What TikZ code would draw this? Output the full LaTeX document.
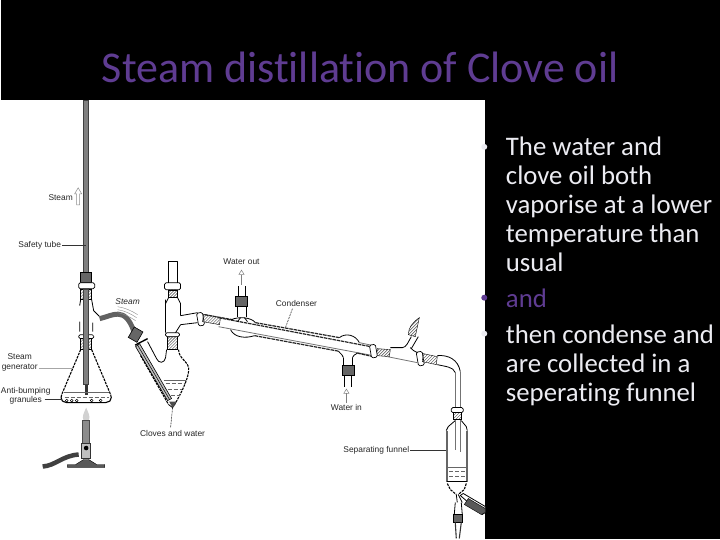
\documentclass[tikz,border=0pt]{standalone}
\usepackage{fontspec}
\setmainfont[Ligatures=NoCommon]{Carlito}
\newfontfamily\labelfont{Liberation Sans}
\usetikzlibrary{arrows.meta,patterns}
\definecolor{titlepurple}{HTML}{5F3C92}
\definecolor{bodywhite}{HTML}{ECECF2}

\begin{document}
\begin{tikzpicture}[
    x=1pt, y=-1pt,
    glass/.style={black, line width=0.8pt, line join=round},
    paleglass/.style={black!55, line width=0.8pt},
    darkglass/.style={black!85, line width=1.2pt, dash pattern=on 3.5pt off 0.8pt},
    flaskside/.style={black, line width=1.1pt, dash pattern=on 2.5pt off 1pt},
    ripple/.style={black!45, line width=0.4pt},
    hatch/.style={pattern=north east lines, pattern color=black!70},
    flange/.style={draw=black, fill=white, line width=0.7pt, rounded corners=1.5pt},
    stopper/.style={draw=black, fill=black!60, line width=0.6pt, inner sep=0pt},
    hose/.style={black!62, line width=5pt, line cap=butt},
    waterline/.style={black!60, line width=0.4pt},
    level/.style={black!60, line width=0.5pt, dash pattern=on 4pt off 2pt},
    leader/.style={black!80, line width=0.6pt},
    flow/.style={black!50, line width=0.5pt, -{Triangle[open, length=5pt, width=6pt]}},
    lab/.style={font=\labelfont\fontsize{8.4}{9.4}\selectfont, black!85, align=center, inner sep=1pt},
    title/.style={font=\fontsize{44}{48}\selectfont, text=titlepurple, anchor=west, inner sep=0pt},
    bullettext/.style={font=\fontsize{26.8}{29}\selectfont, text=bodywhite, anchor=north west, align=left, inner sep=0pt}
  ]
    \fill[black] (0,0) rectangle (720,540);
    \fill[white] (0,100) rectangle (485,540);

    % safety tube and steam generator
    \draw[black!75, fill=black!50, line width=0.5pt] (83,100) rectangle (88,385);
    \fill[black!80] (84,385) rectangle (87,395);
    \node[stopper, minimum width=11pt, minimum height=10pt] (tubestopper) at (85.5,278) {};
    \draw[flange] (78,283) rectangle (94,289);
    \draw[hatch] (80,289) rectangle (91,300);
    \draw[glass] (80,300) -- (79,306) (91,300) -- (93,311) -- (99,317) (79,322) -- (79,332) (92,323) -- (92,332);
    \draw[flange] (78,335) rectangle (93,339);
    \draw[hatch] (80,339) rectangle (91,350);
    \draw[black!75, fill=black!50, line width=0.4pt] (83,289) rectangle (88,385);
    \draw[flaskside] (80,350) -- (61,395) (91,350) -- (110,395);
    \draw[glass, line width=1.1pt, rounded corners=2pt] (61,395) -- (60,400) -- (64,403) -- (107,403) -- (111,400) -- (110,395);
    \draw[waterline] (63,393) -- (108,393);
    \draw[level] (64,398) -- (108,398);
    \foreach \gx in {66,71,76,91,100} {
      \draw[black, line width=0.5pt] (\gx,401) circle (1.4);
    }
    \fill[black!18] (85.5,408) .. controls (83,414) and (81,417) .. (83,421) -- (88,421) .. controls (90,417) and (88,414) .. (85.5,408);

    % burner
    \draw[black!70, fill=black!45, line width=0.4pt] (82,421) rectangle (89,444);
    \draw[black!80, fill=black!25, line width=0.4pt] (81,444) rectangle (90,459);
    \fill[black] (85.5,448.5) circle (2.3);
    \draw[black!75, line width=4.5pt] (42,467) .. controls (55,466) and (62,456) .. (78,455);
    \draw[black, fill=black!65, line width=0.4pt] (67,465) -- (75,465) -- (83,460) -- (88,460) -- (96,465) -- (104,465) -- (104,468) -- (67,468) -- cycle;

    % hose with ripples
    \draw[hose] (99,319) .. controls (112,316) and (124,306) .. (133,331);
    \draw[ripple] (117,307) .. controls (124,308) and (131,311) .. (137,315);
    \draw[ripple] (117,310) .. controls (124,311) and (130,314) .. (136,318);
    \draw[ripple] (117,313) .. controls (123,314) and (129,317) .. (135,321);

    % still-head flask
    \node[stopper, rotate=-30, minimum width=10pt, minimum height=12pt] (hosestopper) at (135,335) {};
    \draw[glass, line width=1.4pt] (134.5,345.5) -- (147,339);
    \draw[black, line width=0.6pt, fill=black!25] (139,344) -- (171,399) -- (167,401) -- (135,347) -- cycle;
    \draw[black, line width=0.5pt] (137,345.5) -- (169,400);
    \draw[flaskside] (140,356) -- (168,405);
    \draw[glass] (147,342) -- (156,359) .. controls (158,364) and (164,364) .. (165,358) -- (166,350);
    \draw[flaskside] (178,350) .. controls (178,360) and (190,362) .. (188,372) .. controls (187,382) and (178,398) .. (173,407);
    \draw[glass] (168,405) -- (172,408) -- (173,407);
    \fill[black!70] (168.5,402) -- (176,402) -- (172,408) -- cycle;
    \draw[waterline] (163,381) -- (185,381);
    \draw[level] (165,384) -- (184,384) (167,390) -- (181,390) (170,396) -- (179,396);
    \draw[hatch] (167,337) rectangle (177,350);
    \draw[flange] (165,333) rectangle (179,337);
    \draw[glass] (165,300) -- (165,333) (168,298) -- (165,304) (177,298) -- (180,304) -- (180,316);
    \draw[glass] (180,325) -- (175,333);
    \draw[hatch] (168,290) rectangle (177,298);
    \draw[flange] (164,283) rectangle (180,290);
    \draw[glass] (168,283) -- (168,262) -- (177,262) -- (177,283);
    \draw[glass] (180,316) -- (197,313) (180,325) -- (197,323);

    % condenser
    \draw[flange, rotate around={10:(200,319.5)}] (197,313) rectangle (203,326);
    \draw[hatch] (203,314.5) -- (220,318) -- (219,325) -- (202,322) -- cycle;
    \draw[darkglass] (218,318) -- (373,347.5);
    \draw[paleglass] (218,327) -- (373,356);
    \draw[darkglass] (204,315) -- (232,320);
    \draw[glass] (231,320) .. controls (237,317) and (250,317) .. (255,323);
    \draw[darkglass] (255,323) -- (339,338);
    \draw[glass] (339,338) .. controls (345,333) and (355,335) .. (359,343);
    \draw[paleglass] (359,343) -- (373,346);
    \draw[glass] (230,330) .. controls (234,338) and (245,339) .. (254,336);
    \draw[darkglass] (254,336) -- (338,351.5);
    \draw[glass] (338,351.5) .. controls (341,355) and (343,356) .. (343,358);
    \draw[glass] (352,358) .. controls (352,356) and (355,355) .. (357,353.5);
    \draw[darkglass] (357,353.5) -- (373,357);
    \draw[glass] (237,322) -- (240,318) (247,322) -- (244,318);

    % water connections
    \draw[glass] (237,307) -- (237,317) (246,307) -- (246,317);
    \node[stopper, minimum width=12pt, minimum height=10pt] (wateroutstopper) at (241,302) {};
    \draw[black, line width=1.1pt] (238,297) -- (238,286) (245,297) -- (245,286);
    \coordinate (wateroutfree) at (241,270);
    \draw[flow] (241,285) -- (wateroutfree);
    \draw[glass] (343,358) -- (343,366) (352,358) -- (352,366);
    \node[stopper, minimum width=12pt, minimum height=10pt] (waterinstopper) at (347.5,371) {};
    \draw[black, line width=1.1pt] (344,376) -- (344,387) (351,376) -- (351,387);
    \coordinate (waterinfree) at (346,403);
    \coordinate (waterintip) at (346,389);
    \draw[flow] (waterinfree) -- (waterintip);

    % receiver adapter
    \draw[hatch] (377,349) -- (390,350) -- (389,357) -- (376,356) -- cycle;
    \draw[flange, rotate around={10:(373,351)}] (370,345) rectangle (376,358);
    \draw[glass] (390,348) -- (402,348) .. controls (406,348) and (408,342) .. (411,337);
    \draw[paleglass] (387,357) -- (417,363);
    \draw[glass] (410,348) .. controls (412,350) and (414,352) .. (417,353);
    \draw[glass] (418,337) -- (411,349);
    \draw[hatch] (408,335) .. controls (408,328) and (412,323) .. (419,318) -- (415,337) -- cycle;
    \draw[flange, rotate around={10:(420,359)}] (417,352) rectangle (423,366);
    \draw[hatch] (423,354) -- (437,357) -- (436,365) -- (422,362) -- cycle;
    \draw[glass] (437,356) .. controls (448,355) and (458,360) .. (460,372);
    \draw[glass] (437,365) .. controls (445,367) and (453,367) .. (455,373);
    \draw[paleglass, line width=1pt] (455,372) -- (455,408) (460,372) -- (460,408);

    % separating funnel
    \draw[flange] (451,408) rectangle (463,413);
    \draw[hatch] (453,413) rectangle (461,420);
    \draw[glass] (455,421) -- (448,427) -- (446,431);
    \draw[glass] (461,421) -- (466,427) -- (467,431);
    \draw[paleglass, line width=1pt] (455,420) -- (455,450) (460,420) -- (460,452);
    \draw[black!60, line width=1.8pt] (446.5,431) -- (446.5,482);
    \draw[black!60, line width=1.8pt] (466.5,431) -- (466.5,482);
    \draw[waterline] (447,468) -- (466,468);
    \draw[level] (449,472) -- (465,472) (449,477) -- (465,477);
    \draw[glass] (447,482) -- (467,482);
    \draw[flaskside] (447,484) -- (450,490) -- (456,495) (466,484) -- (464,490) -- (458,495);
    \draw[glass] (456,495) -- (457,503) (458,495) -- (462,503);
    \draw[glass, fill=white] (460,496) -- (463,494) -- (485,507) -- (485,513) -- (482,515) -- cycle;
    \draw[black, fill=black!65, line width=0.4pt] (468,499) -- (485,509) -- (485,513) -- (481,515) -- (464,505) -- cycle;
    \draw[glass] (455,503) -- (454,515) (461,503) -- (462,515);
    \node[stopper, minimum width=9pt, minimum height=8pt] (funnelstopper) at (458,519) {};
    \draw[black!80, line width=1.1pt] (455,523) -- (456,539) (461,523) -- (459,539);

    % labels
    \node[lab] (steamlabel) at (60,198) {Steam};
    \draw[black!45, line width=0.5pt, fill=white] (76,205) -- (76,194) -- (74,194) -- (77.5,188) -- (81,194) -- (79,194) -- (79,205) -- cycle;
    \node[lab] (safetylabel) at (39,246) {Safety tube};
    \coordinate (safetyend) at (85.5,246);
    \draw[leader] (safetylabel) -- (safetyend);
    \node[lab, font=\labelfont\itshape\fontsize{8.4}{9}\selectfont] (hoselabel) at (127,302) {Steam};
    \node[lab] (generatorlabel) at (19,363) {Steam\\generator};
    \coordinate (generatorend) at (72,368.5);
    \draw[black!35, line width=0.5pt] (38,368.5) -- (generatorend);
    \node[lab] (granuleslabel) at (25,396) {Anti-bumping\\granules};
    \coordinate (granulesend) at (61,400);
    \draw[leader] (44,400) -- (granulesend);
    \node[lab] (cloveslabel) at (172,434) {Cloves and water};
    \coordinate (clovesend) at (172,408);
    \draw[leader, dash pattern=on 2pt off 1pt] (clovesend) -- (170,428);
    \node[lab] (wateroutlabel) at (241,262) {Water out};
    \node[lab] (condenserlabel) at (296,304) {Condenser};
    \coordinate (condenserend) at (285,328);
    \draw[leader, dash pattern=on 2pt off 1pt] (292,309) -- (condenserend);
    \node[lab] (waterinlabel) at (346,408) {Water in};
    \node[lab] (funnellabel) at (376,451) {Separating funnel};
    \coordinate (funnelend) at (446,451);
    \draw[leader] (funnellabel) -- (funnelend);

    % slide text
    \node[title] (slidetitle) at (101,67) {Steam distillation of Clove oil};
    \fill[bodywhite] (484,147) circle (3);
    \fill[titlepurple] (484,298) circle (3);
    \fill[bodywhite] (484,334) circle (3);
    \node[bullettext] (firstpoint) at (505.5,137) {The water and\\clove oil both\\vaporise at a lower\\temperature than\\usual};
    \node[bullettext, text=titlepurple] (secondpoint) at (505.5,289) {and};
    \node[bullettext] (thirdpoint) at (505.5,325) {then condense and\\are collected in a\\seperating funnel};
  \end{tikzpicture}
\end{document}
